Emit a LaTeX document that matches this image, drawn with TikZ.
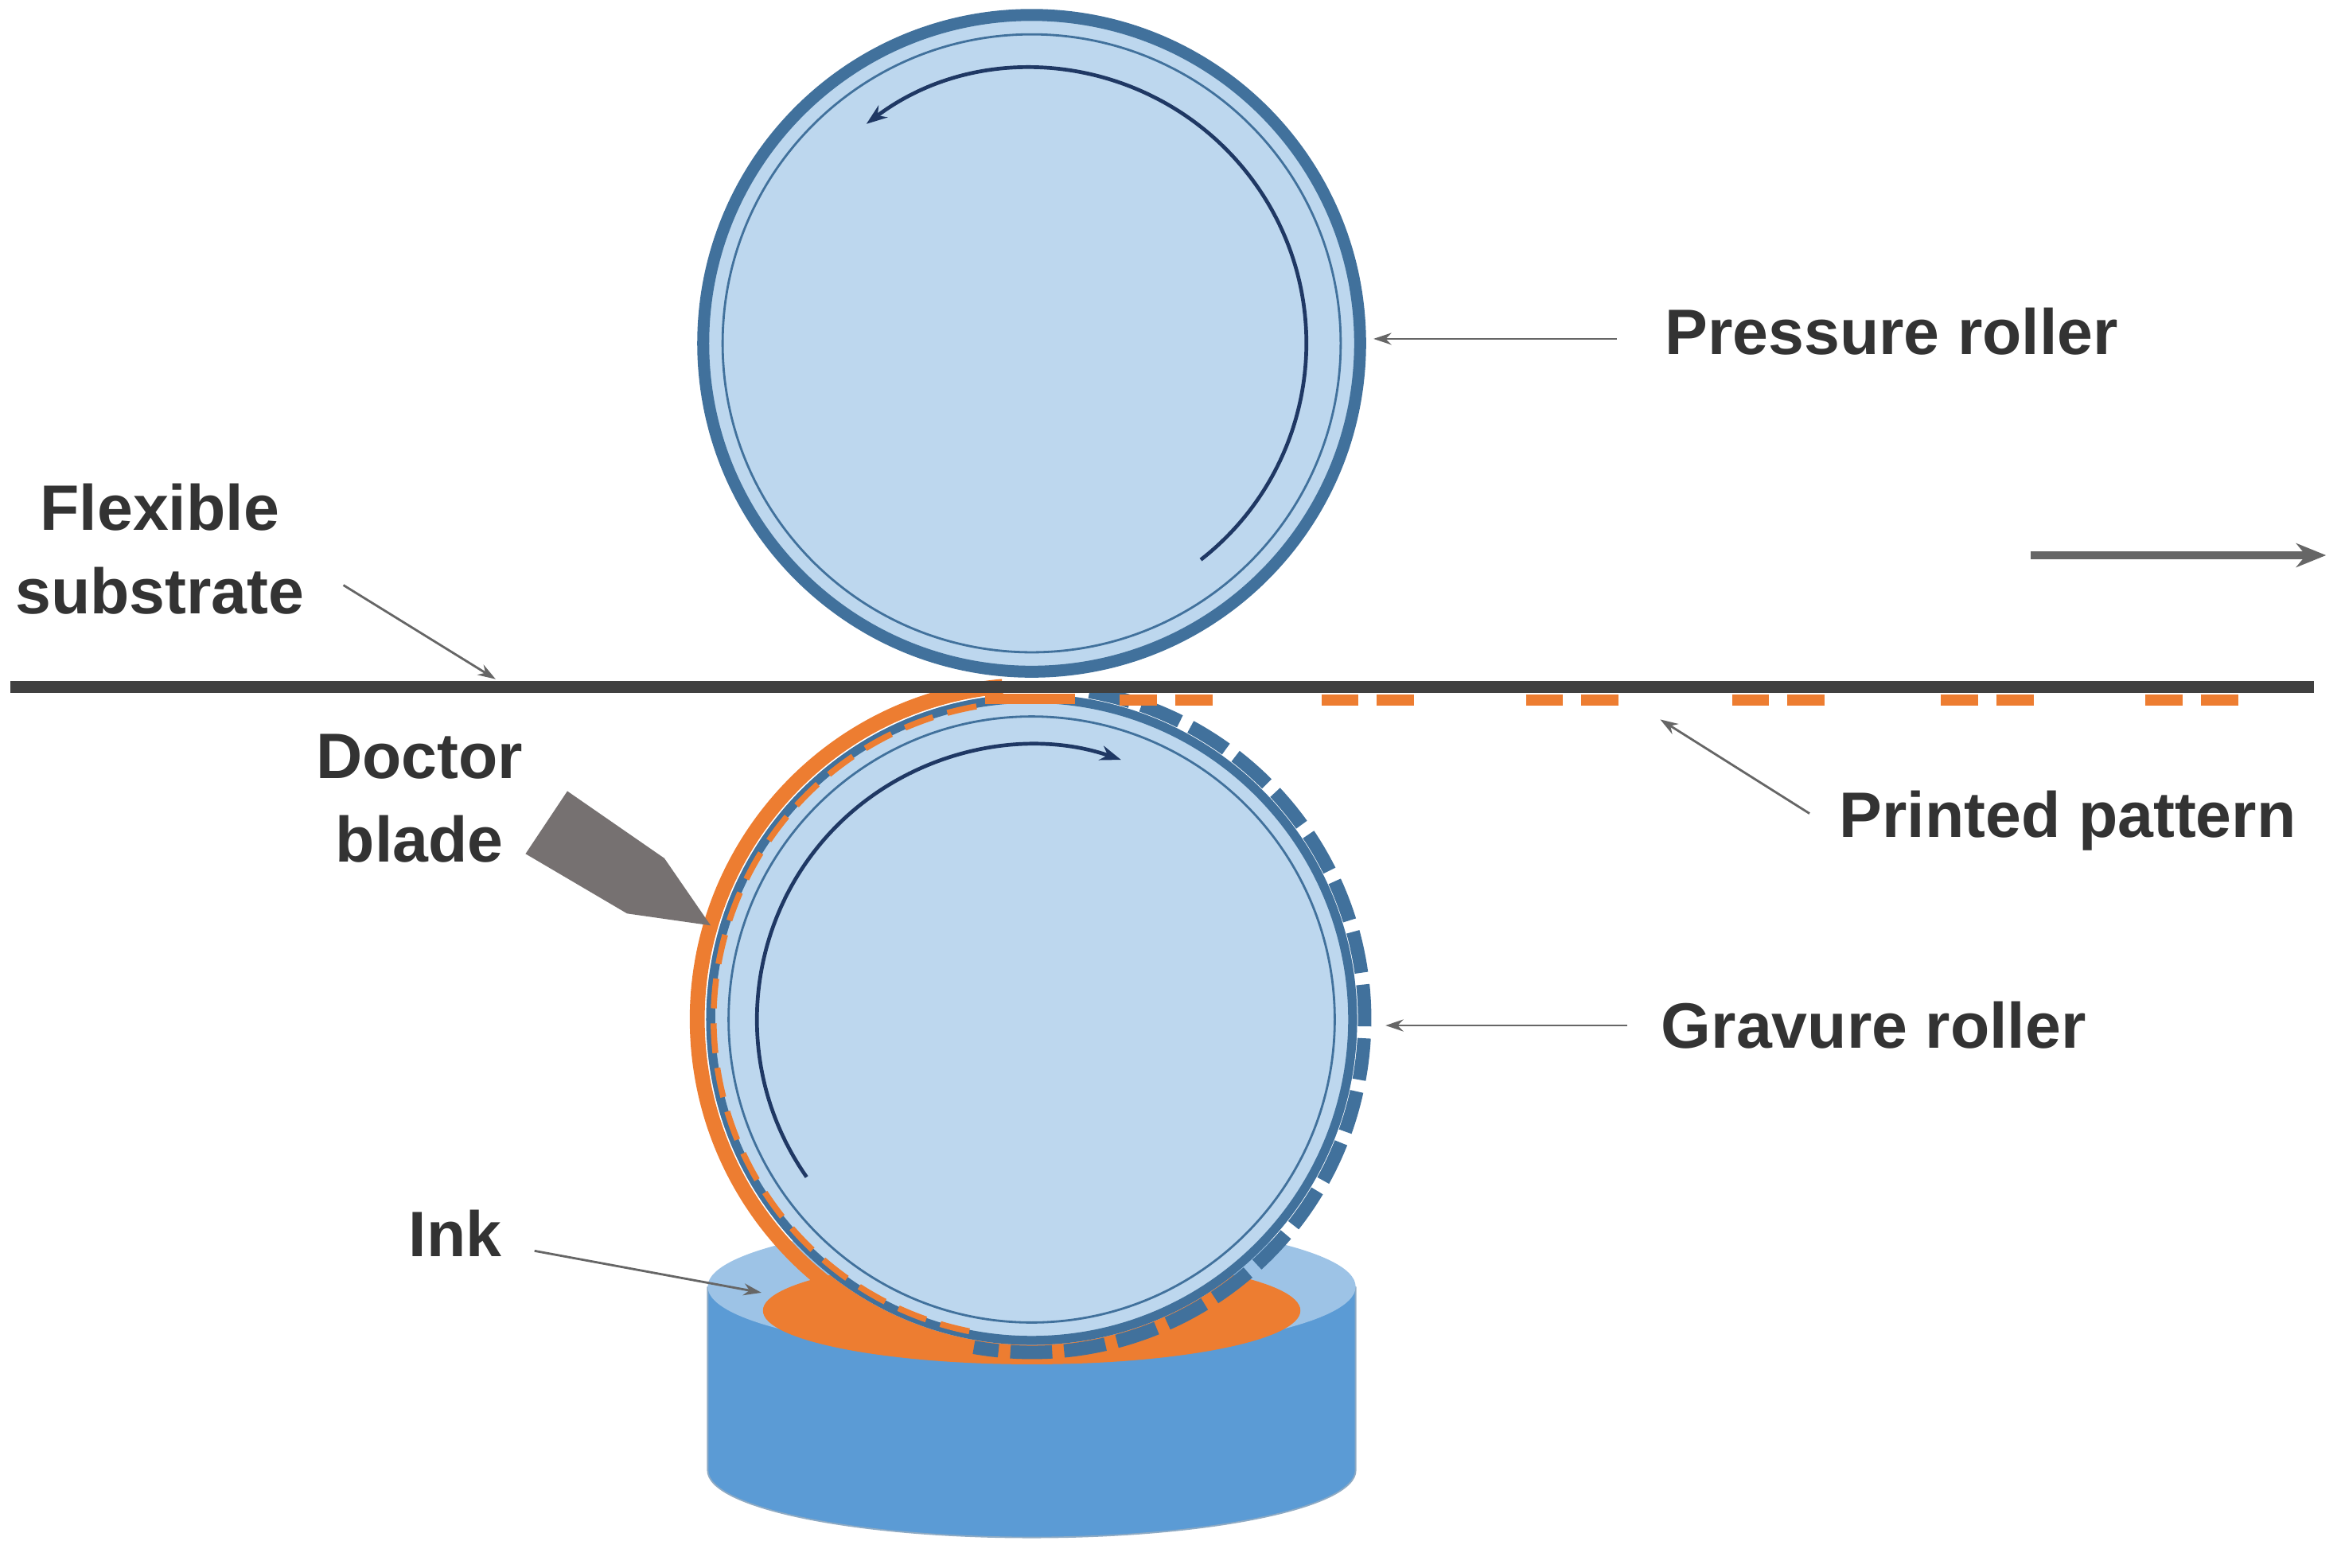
\documentclass[tikz,border=0pt]{standalone}
\usepackage{fontspec}
\setmainfont{Liberation Sans}
\usetikzlibrary{arrows.meta}
\definecolor{rim}{HTML}{41719C}
\definecolor{face}{HTML}{BDD7EE}
\definecolor{navy}{HTML}{1F3864}
\definecolor{ink}{HTML}{ED7D31}
\definecolor{tank}{HTML}{5B9BD5}
\definecolor{tanktop}{HTML}{9DC3E6}
\definecolor{blade}{HTML}{767171}
\definecolor{txt}{HTML}{333333}
\tikzset{lbl/.style={font=\fontsize{43}{50}\selectfont\bfseries,text=txt,align=center,inner sep=0},
 ptr/.style={draw=gray!80!black,line width=1.5,-{Stealth[length=12,width=8]}},
 dot/.style={ink,line width=7}}
\begin{document}
\begin{tikzpicture}[x=1pt,y=-1pt]
\useasboundingbox (0,0) rectangle (1568,1050);
% ink tank
\fill[tank] (474,862) -- (474,985) arc[start angle=180,end angle=0,x radius=217,y radius=45] -- (908,862) -- cycle;
\draw[rim!60,line width=1] (474,862) -- (474,985) arc[start angle=180,end angle=0,x radius=217,y radius=45] -- (908,862);
\fill[tanktop] (691,862) ellipse[x radius=217,y radius=45];
\fill[ink] (691,878) ellipse[x radius=180,y radius=36];
% gravure roller
\coordinate (g) at (691,683);
\fill[face] (g) circle[radius=218];
\draw[ink,line width=10] (g) ++(-95:224) arc[start angle=-95,end angle=-265,radius=224];
\draw[ink,line width=9] (g) ++(100:224) arc[start angle=100,end angle=60,radius=224];
\draw[rim,line width=6] (g) circle[radius=215];
\draw[rim,line width=9,dash pattern=on 28 off 8] (g) ++(-80:223) arc[start angle=-80,end angle=100,radius=223];
\draw[ink,line width=4,dash pattern=on 20 off 10] (g) ++(-100:213) arc[start angle=-100,end angle=-260,radius=213];
\draw[rim,line width=1.5] (g) circle[radius=203];
\draw[navy,line width=2.5,-{Stealth[length=14,width=10]}] (g) ++(-215:184) arc[start angle=-215,end angle=-71,radius=184];
% pressure roller
\coordinate (p) at (691,230);
\fill[face] (p) circle[radius=220];
\draw[rim,line width=8] (p) circle[radius=220];
\draw[rim,line width=1.5] (p) circle[radius=207];
\draw[navy,line width=2.5,-{Stealth[length=14,width=10]}] (p) ++(52:184) arc[start angle=52,end angle=-127,radius=184];
% substrate
\coordinate (s1) at (7,460); \coordinate (s2) at (1550,460);
\draw[black!75,line width=8] (s1) -- (s2);
% printed pattern
\foreach \x in {750,885,1022,1160,1300,1437}{
 \draw[dot] (\x,469) -- ++(25,0); \draw[dot] (\x+37,469) -- ++(25,0);}
\draw[dot] (660,468) -- (720,468);
% doctor blade
\fill[blade] (380,530) -- (352,572) -- (420,612) -- (476,620) -- (445,575) -- cycle;
% labels
\node[lbl] (pr) at (1267,222) {Pressure roller};
\coordinate (pra) at (1083,227); \coordinate (prb) at (920,227);
\draw[ptr] (pra) -- (prb);
\node[lbl] (fs) at (107,368) {Flexible\\[6pt]substrate};
\coordinate (fsa) at (230,392); \coordinate (fsb) at (332,455);
\draw[ptr] (fsa) -- (fsb);
\node[lbl] (db) at (281,535) {Doctor\\[6pt]blade};
\node[lbl] (pp) at (1385,550) {Printed pattern};
\coordinate (ppa) at (1212,545); \coordinate (ppb) at (1112,482);
\draw[ptr] (ppa) -- (ppb);
\node[lbl] (gr) at (1255,687) {Gravure roller};
\coordinate (gra) at (1090,687); \coordinate (grb) at (928,687);
\draw[ptr] (gra) -- (grb);
\node[lbl] (ik) at (305,826) {Ink};
\coordinate (ika) at (358,838); \coordinate (ikb) at (510,866);
\draw[ptr] (ika) -- (ikb);
\coordinate (da) at (1360,372); \coordinate (dbb) at (1558,372);
\draw[gray!80!black,line width=5,-{Stealth[length=20,width=16]}] (da) -- (dbb);
\end{tikzpicture}
\end{document}
